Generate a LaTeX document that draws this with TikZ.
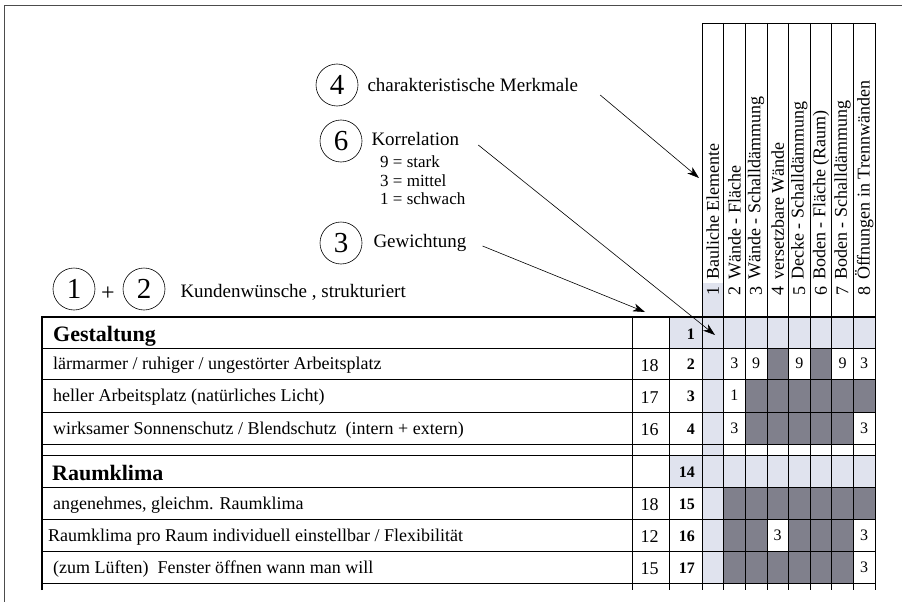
\documentclass[tikz,border=0pt]{standalone}
\usepackage{fontspec}
\setmainfont{Liberation Serif}
\usepackage{tikz}
\usetikzlibrary{arrows.meta,positioning}
\definecolor{lightcell}{RGB}{224,227,238}
\definecolor{darkcell}{RGB}{128,128,140}
\tikzset{
    numcircle/.style = {
        circle,
        draw=black,
        line width=0.6pt,
        minimum size=42pt,
        inner sep=0pt,
        font=\fontsize{29}{31}\selectfont
    },
    notetext/.style = {
        anchor=west,
        inner sep=0pt,
        font=\fontsize{19}{21}\selectfont
    },
    scaletext/.style = {
        anchor=west,
        inner sep=0pt,
        font=\fontsize{17}{19}\selectfont
    },
    rowtext/.style = {
        anchor=west,
        inner sep=0pt,
        font=\fontsize{18}{20}\selectfont
    },
    grouptext/.style = {
        anchor=west,
        inner sep=0pt,
        font=\fontsize{22}{24}\selectfont\bfseries
    },
    weightnum/.style = {
        inner sep=0pt,
        font=\fontsize{18}{20}\selectfont
    },
    rownum/.style = {
        anchor=east,
        inner sep=0pt,
        font=\fontsize{16}{18}\selectfont\bfseries
    },
    cellnum/.style = {
        inner sep=0pt,
        font=\fontsize{16}{18}\selectfont
    },
    headtext/.style = {
        rotate=90,
        inner sep=0pt,
        font=\fontsize{18}{20}\selectfont
    },
    thinline/.style = {
        draw=black,
        line width=0.6pt
    },
    thickline/.style = {
        draw=black,
        line width=1.2pt
    },
    pointer/.style = {
        draw=black,
        line width=0.6pt,
        -{Stealth[length=12pt,width=8pt,inset=3.5pt]}
    }
}

\begin{document}
\begin{tikzpicture}[x=1pt, y=-1pt]
    \useasboundingbox (0,0) rectangle (902,602);
    \draw[line width=0.8pt, black!70] (4,602) -- (4,5) -- (902,5);

    % shaded cells
    \fill[lightcell] (702,283) rectangle (723.625,583);
    \fill[lightcell] (669,317) rectangle (875,348);
    \fill[lightcell] (669,455) rectangle (875,487);
    \foreach \a/\b/\t/\u in {4/4/348/379.5, 6/6/348/379.5, 3/8/379.5/412, 3/7/412/444,
                             2/8/487/519, 2/3/519/551, 5/7/519/551, 2/7/551/583}
        \fill[darkcell] ({702+(\a-1)*21.625},\t) rectangle ({702+\b*21.625},\u);

    % grid
    \draw[thinline] (702,23) rectangle (875,317);
    \foreach \i in {1,...,7}
        \draw[thinline] ({702+\i*21.625},23) -- ({702+\i*21.625},590);
    \foreach \y in {348,379.5,412,444,455,487,519,551,583}
        \draw[thinline] (42,\y) -- (875,\y);
    \foreach \x in {632,669,702,875}
        \draw[thinline] (\x,317) -- (\x,590);
    \draw[thickline] (42,590) -- (42,317) -- (875,317);

    % column heads
    \foreach \i/\t in {1/Bauliche Elemente, 2/Wände - Fläche, 3/Wände - Schalldämmung,
                       4/versetzbare Wände, 5/Decke - Schalldämmung, 6/Boden - Fläche (Raum),
                       7/Boden - Schalldämmung, 8/Öffnungen in Trennwänden} {
        \node[headtext] (hnum\i) at ({702+(\i-0.5)*21.625},291) {\i};
        \node[headtext, anchor=west] (hlab\i) at ({702+(\i-0.5)*21.625},280) {\t};
    }

    % rows
    \node[grouptext] (gestaltung) at (53,336) {Gestaltung};
    \node[rownum] (nr1) at (695,334) {1};
    \node[grouptext] (raumklima) at (52,473) {Raumklima};
    \node[rownum] (nr14) at (695,472) {14};
    \foreach \y/\x/\w/\n/\t in {363.5/53/18/2/{lärmarmer / ruhiger / ungestörter Arbeitsplatz},
                                395.5/53/17/3/{heller Arbeitsplatz (natürliches Licht)},
                                428/53/16/4/{wirksamer Sonnenschutz / Blendschutz\ \ (intern + extern)},
                                503/53/18/15/{angenehmes, gleichm. Raumklima},
                                535/48/12/16/{Raumklima pro Raum individuell einstellbar / Flexibilität},
                                567/53/15/17/{(zum Lüften)\ \ Fenster öffnen wann man will}} {
        \node[rowtext] (row\n) at (\x,\y+2) {\t};
        \node[weightnum] (wgt\n) at (649.5,\y+2) {\w};
        \node[rownum] (nr\n) at (695,\y+1) {\n};
    }

    % correlations
    \foreach \c/\y/\v [count=\k] in {2/363.5/3, 3/363.5/9, 5/363.5/9, 7/363.5/9, 8/363.5/3,
                                     2/395.5/1, 2/428/3, 8/428/3, 4/535/3, 8/535/3, 8/567/3}
        \node[cellnum] (val\k) at ({702+(\c-0.5)*21.625},\y) {\v};

    % notes
    \node[numcircle] (c4) at (337,85) {4};
    \node[notetext, right=9pt of c4] (merkmale) {charakteristische Merkmale};
    \node[numcircle] (c6) at (341,141) {6};
    \node[notetext, right=9pt of c6, yshift=2pt] (korrelation) {Korrelation};
    \node[scaletext] (stark) at (380,162) {9 = stark};
    \node[scaletext, below=6pt of stark.south west, anchor=north west] (mittel) {3 = mittel};
    \node[scaletext, below=6pt of mittel.south west, anchor=north west] (schwach) {1 = schwach};
    \node[numcircle] (c3) at (341,243) {3};
    \node[notetext, right=11pt of c3] (gewichtung) {Gewichtung};
    \node[numcircle] (c1) at (74,289) {1};
    \node[font=\fontsize{24}{26}\selectfont, inner sep=0pt] (plus) at (108,294) {+};
    \node[numcircle] (c2) at (144,289) {2};
    \node[notetext, right=15pt of c2, yshift=-3pt] (kunden) {Kundenwünsche , strukturiert};

    \coordinate (tip4) at (699,178);
    \coordinate (tip6) at (715,335);
    \coordinate (tip3) at (645,312);
    \draw[pointer] ([shift={(22,10)}]merkmale.east) -- (tip4);
    \draw[pointer] ([shift={(19,6)}]korrelation.east) -- (tip6);
    \draw[pointer] ([shift={(16,3)}]gewichtung.east) -- (tip3);
\end{tikzpicture}
\end{document}
